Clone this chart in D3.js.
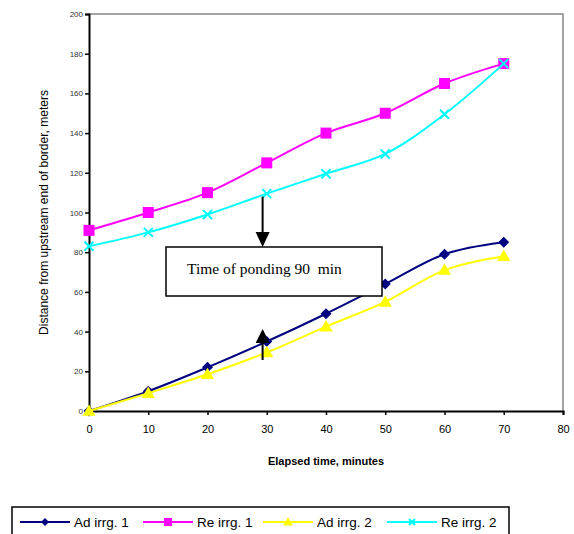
<!DOCTYPE html>
<html><head><meta charset="utf-8">
<script src="https://cdn.jsdelivr.net/npm/d3@7"></script>
<style>body{margin:0;background:#fff}svg{display:block}</style>
</head><body>
<svg id="c" width="574" height="534"></svg>
<script>
const times = [0, 10, 20, 30, 40, 50, 60, 70];
const adIrrg1 = [0, 10, 22, 35, 49, 64, 79, 85];
const reIrrg1 = [91, 100, 110, 125, 140, 150, 165, 175];
const adIrrg2 = [0, 9, 18.5, 29.5, 42.5, 55, 71, 78];
const reIrrg2 = [83, 90, 99, 109.5, 119.5, 129.5, 149.5, 175];
const seriesNames = ["Ad irrg. 1", "Re irrg. 1", "Ad irrg. 2", "Re irrg. 2"];
const seriesColors = ["#000080", "#FF00FF", "#FFFF00", "#00FFFF"];
const seriesMarkers = ["diamond", "square", "triangle", "x"];
const xTicks = [0, 10, 20, 30, 40, 50, 60, 70, 80];
const yTicks = [0, 20, 40, 60, 80, 100, 120, 140, 160, 180, 200];
const annotationText = "Time of ponding 90  min";

const svg = d3.select("#c");
const x = d3.scaleLinear().domain([0, 80]).range([89, 563]);
const y = d3.scaleLinear().domain([0, 200]).range([411, 14]);

// frame top/right gray
svg.append("path").attr("d", `M${x(0)},${y(200)}H${x(80)}V${y(0)}`)
  .attr("fill", "none").attr("stroke", "#888").attr("stroke-width", 1.5);

// axes
const xAxis = svg.append("g").attr("transform", `translate(0,${y(0)})`)
  .call(d3.axisBottom(x).tickValues(xTicks).tickSize(4).tickPadding(10));
xAxis.select(".domain").attr("stroke", "#000").attr("stroke-width", 2);
xAxis.selectAll(".tick line").attr("stroke", "#000").attr("stroke-width", 1.5);
xAxis.selectAll("text").attr("font-family", "Liberation Sans, Arial, sans-serif").attr("font-size", 11).attr("fill", "#000");

const yAxis = svg.append("g").attr("transform", `translate(${x(0)},0)`)
  .call(d3.axisLeft(y).tickValues(yTicks).tickSize(4).tickPadding(2));
yAxis.select(".domain").attr("stroke", "#000").attr("stroke-width", 2);
yAxis.selectAll(".tick line").attr("stroke", "#000").attr("stroke-width", 1.5);
yAxis.selectAll("text").attr("font-family", "Liberation Sans, Arial, sans-serif").attr("font-size", 8).attr("fill", "#333");

// titles
svg.append("text").attr("x", 326).attr("y", 465).attr("text-anchor", "middle")
  .attr("font-family", "Liberation Sans, Arial, sans-serif").attr("font-size", 11).attr("font-weight", "bold")
  .text("Elapsed time, minutes");
svg.append("text").attr("transform", `translate(48,${(y(0) + y(200)) / 2}) rotate(-90)`).attr("text-anchor", "middle")
  .attr("font-family", "Liberation Sans, Arial, sans-serif").attr("font-size", 12)
  .text("Distance from upstream end of border, meters");

const series = [adIrrg1, reIrrg1, adIrrg2, reIrrg2];
const line = d3.line().x((d, i) => x(times[i])).y(d => y(d)).curve(d3.curveCatmullRom.alpha(0.5));

function marker(g, type, color, s) {
  if (type === "diamond") {
    g.append("path").attr("d", `M0,${-s}L${s},0L0,${s}L${-s},0Z`).attr("fill", color);
  } else if (type === "square") {
    g.append("rect").attr("x", -s).attr("y", -s).attr("width", 2 * s).attr("height", 2 * s).attr("fill", color);
  } else if (type === "triangle") {
    g.append("path").attr("d", `M0,${-s * 1.1}L${s * 1.1},${s * 0.8}L${-s * 1.1},${s * 0.8}Z`).attr("fill", color);
  } else {
    g.append("path").attr("d", `M${-s},${-s}L${s},${s}M${-s},${s}L${s},${-s}`).attr("stroke", color).attr("stroke-width", 2).attr("fill", "none");
  }
}
const markerSizes = [5.5, 5.5, 6, 4.5];

series.forEach((vals, k) => {
  const g = svg.append("g");
  g.append("path").attr("d", line(vals)).attr("fill", "none").attr("stroke", seriesColors[k]).attr("stroke-width", 2);
  vals.forEach((v, i) => {
    const m = g.append("g").attr("transform", `translate(${x(times[i])},${y(v)})`);
    marker(m, seriesMarkers[k], seriesColors[k], markerSizes[k]);
  });
});

// annotation box
svg.append("rect").attr("x", 166).attr("y", 247).attr("width", 216).attr("height", 49)
  .attr("fill", "#fff").attr("stroke", "#000").attr("stroke-width", 1.5);
svg.append("text").attr("x", 187).attr("y", 274).attr("font-family", "Liberation Serif, Times New Roman, serif")
  .attr("font-size", 15.5).style("white-space", "pre").text(annotationText);

// arrows
const ax = x(29.3);
svg.append("line").attr("x1", ax).attr("x2", ax).attr("y1", y(reIrrg2[3]) + 3).attr("y2", 233).attr("stroke", "#000").attr("stroke-width", 2);
svg.append("path").attr("d", `M${ax - 7},232L${ax + 7},232L${ax},247Z`).attr("fill", "#000");
svg.append("line").attr("x1", ax).attr("x2", ax).attr("y1", 360).attr("y2", 340).attr("stroke", "#000").attr("stroke-width", 2);
svg.append("path").attr("d", `M${ax - 7},343L${ax + 7},343L${ax},329Z`).attr("fill", "#000");

// legend
svg.append("rect").attr("x", 12).attr("y", 507).attr("width", 497).attr("height", 40)
  .attr("fill", "#fff").attr("stroke", "#000").attr("stroke-width", 1.5);
const legX = [20, 143, 263, 387];
const legMarkerSizes = [4, 4, 4.5, 3];
seriesNames.forEach((n, k) => {
  const g = svg.append("g").attr("transform", `translate(${legX[k]},522)`);
  g.append("line").attr("x1", 0).attr("x2", 50).attr("stroke", seriesColors[k]).attr("stroke-width", 2);
  const m = g.append("g").attr("transform", "translate(25,0)");
  marker(m, seriesMarkers[k], seriesColors[k], legMarkerSizes[k]);
  g.append("text").attr("x", 54).attr("y", 5).attr("font-family", "Liberation Sans, Arial, sans-serif")
    .attr("font-size", 13.5).text(n);
});
</script>
</body></html>
